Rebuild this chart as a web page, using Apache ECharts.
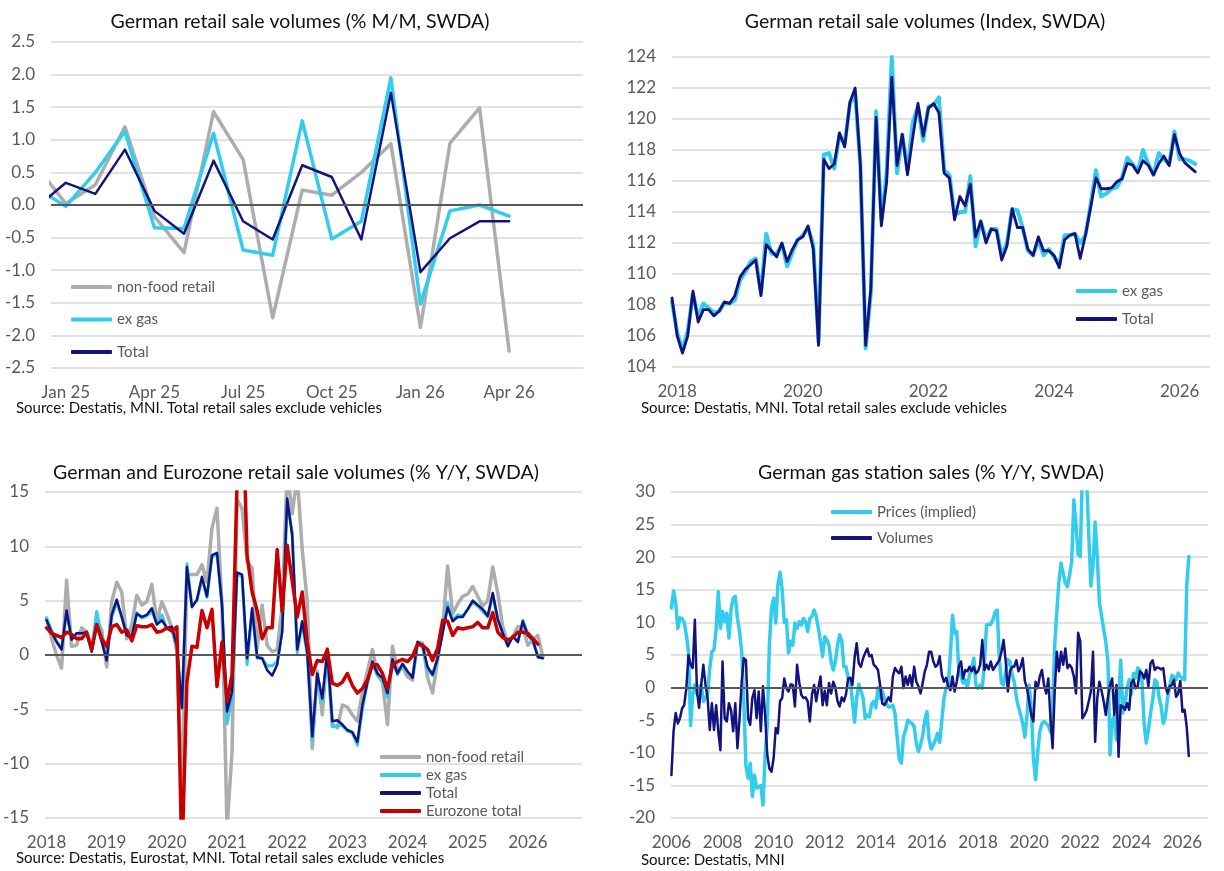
<!DOCTYPE html>
<html>
<head>
<meta charset="utf-8">
<title>German retail sales</title>
<script src="https://cdn.jsdelivr.net/npm/echarts@6/dist/echarts.min.js"></script>
<style>
  html, body { margin: 0; padding: 0; background: #fff; }
  #chart { width: 1224px; height: 871px; }
</style>
</head>
<body>
<div id="chart"></div>
<script>
// ---- panel 1: % M/M, Dec 24 .. Apr 26 (Dec 24 only shows as the clipped first segment)
var p1Start = -1;
var p1NonFood = [0.6, 0.02, 0.31, 1.2, -0.18, -0.73, 1.43, 0.7, -1.73, 0.23, 0.15, 0.5, 0.94, -1.88, 0.95, 1.49, -2.24];
var p1ExGas = [0.26, -0.02, 0.5, 1.13, -0.35, -0.36, 1.1, -0.69, -0.77, 1.29, -0.52, -0.25, 1.95, -1.52, -0.09, 0.0, -0.17];
var p1Total = [-0.04, 0.34, 0.17, 0.85, -0.09, -0.44, 0.68, -0.25, -0.53, 0.61, 0.43, -0.53, 1.72, -1.03, -0.51, -0.25, -0.25];
var p1TickPos = [0, 3, 6, 9, 12, 15];
var p1TickLabels = ['Jan 25', 'Apr 25', 'Jul 25', 'Oct 25', 'Jan 26', 'Apr 26'];

// ---- panel 2: index, Dec 2017 .. Apr 2026
var p2Start = -1;
var p2ExGas = [108.2, 106.2, 105.1, 106.3, 108.7, 107.2, 108.1, 107.8, 107.5, 107.6, 108.1, 108.1, 108.3,
  109.6, 110.1, 110.8, 111.0, 108.8, 112.6, 111.3, 111.3, 111.9, 110.5, 111.4, 112.2, 112.5, 113.0, 111.9,
  105.6, 117.7, 117.8, 116.8, 119.0, 118.4, 121.0, 121.6, 117.0, 105.2, 108.8, 120.5, 113.5, 116.5, 124.0,
  116.5, 119.0, 116.7, 119.8, 120.8, 118.6, 120.8, 120.9, 121.4, 116.7, 116.4, 113.8, 114.0, 114.0, 116.3,
  111.8, 113.4, 112.2, 112.9, 112.9, 111.2, 112.0, 114.2, 114.1, 113.0, 111.5, 111.2, 112.2, 111.2, 111.6,
  111.1, 110.6, 112.5, 112.5, 112.6, 112.0, 112.5, 114.5, 116.7, 115.0, 115.2, 115.5, 115.6, 116.2, 117.5,
  117.1, 116.6, 118.0, 117.1, 116.4, 117.8, 117.4, 117.1, 119.2, 117.4, 117.4, 117.3, 117.1];
var p2Total = [108.45, 106.0, 104.9, 106.0, 108.9, 106.9, 107.7, 107.7, 107.3, 107.6, 108.2, 108.1, 108.6,
  109.8, 110.3, 110.6, 110.9, 108.6, 111.9, 111.5, 111.1, 112.0, 110.8, 111.6, 112.2, 112.4, 113.1, 111.6,
  105.4, 117.4, 116.8, 117.1, 119.1, 118.2, 121.1, 122.0, 117.0, 105.4, 109.1, 120.1, 113.1, 115.9, 122.7,
  117.0, 119.0, 116.4, 118.8, 121.0, 118.9, 120.7, 121.0, 120.4, 116.5, 116.2, 113.5, 115.0, 114.4, 115.8,
  112.4, 113.4, 112.0, 112.9, 112.8, 110.9, 111.8, 114.2, 113.0, 113.0, 111.6, 111.2, 112.4, 111.5, 111.5,
  111.2, 110.4, 112.2, 112.5, 112.6, 111.0, 112.5, 114.3, 116.2, 115.5, 115.5, 115.56, 115.95, 116.15, 117.14,
  117.03, 116.52, 117.31, 117.02, 116.4, 117.11, 117.61, 116.99, 119.0, 117.77, 117.17, 116.88, 116.59];
var p2TickPos = [0, 24, 48, 72, 96];
var p2TickLabels = ['2018', '2020', '2022', '2024', '2026'];

// ---- panel 3: % Y/Y, Jan 2018 ..
var p3NonFood = [3.4, 1.5, 0.0, -1.2, 6.9, 0.8, 0.9, 2.5, 2.1, 0.6,
  3.1, 2.3, -1.1, 4.9, 6.7, 5.8, 1.5, 2.8, 5.5, 4.6,
  4.9, 6.5, 3.1, 4.9, 3.8, 2.5, 0.3, -13.0, 7.4, 7.4,
  7.4, 8.3, 6.7, 11.7, 13.5, 4.6, -16, -8.9, 14.3, 13.5,
  8.6, 8.0, 0.6, 4.6, 0.9, 0.3, 0.5, 4.5, 17, 13,
  16.5, 9.7, 4.9, -8.6, -1.5, -5.5, 0.6, -6.4, -6.7, -4.6,
  -4.8, -5.5, -6.1, -3.4, -1.5, 0.5, -1.8, -2.5, -6.4, 0.8,
  -1.4, -1.1, -2.0, -2.3, 1.2, 1.1, -2.1, -3.5, -0.5, 2.5,
  8.2, 3.8, 4.7, 5.4, 5.6, 6.3, 5.4, 4.5, 5.0, 8.1,
  5.7, 2.6, 1.1, 1.7, 2.6, 2.6, 0.9, 1.4, 1.8, -0.2];
var p3ExGas = [3.4, 2.3, 1.3, 0.6, 3.9, 1.5, 2.0, 2.0, 2.0, 0.5,
  4.0, 1.8, -0.2, 3.5, 4.8, 3.5, 1.9, 1.8, 3.9, 3.4,
  3.6, 4.0, 2.9, 3.7, 2.4, 2.5, 0.9, -4.8, 8.4, 4.5,
  5.0, 7.0, 5.3, 9.0, 9.3, 4.5, -6.3, -4.0, 7.5, 7.2,
  -0.9, 4.0, -0.3, -0.3, -1.0, -1.0, -0.6, 2.3, 14.0, 11.3,
  0.2, 3.0, 0.0, -7.9, -2.0, -4.3, 0.1, -6.6, -6.5, -6.5,
  -7.0, -7.2, -8.3, -5.0, -2.6, -0.8, -1.9, -2.3, -3.9, -0.6,
  -1.8, -1.0, -1.6, -2.0, 1.0, 0.7, -1.3, -1.9, -0.2, 2.2,
  4.8, 3.2, 3.7, 3.6, 4.2, 4.9, 4.5, 4.0, 3.5, 5.5,
  3.3, 2.0, 1.0, 1.8, 1.2, 3.2, 1.9, 1.2, -0.1, -0.2];
var p3Total = [3.2, 2.1, 1.2, 0.5, 4.1, 1.4, 2.0, 2.0, 2.1, 0.3,
  2.8, 1.2, -0.5, 3.7, 5.1, 3.5, 1.8, 1.7, 3.8, 3.5,
  3.7, 4.3, 2.8, 3.2, 2.5, 2.6, 0.8, -4.9, 8.1, 4.4,
  5.1, 7.2, 5.4, 9.2, 9.4, 4.6, -5.2, -3.4, 7.6, 7.4,
  -0.3, 4.3, -0.2, -0.3, -1.4, -1.9, -0.9, 2.1, 14.4, 11.0,
  0.5, 3.1, 0.3, -7.5, -1.7, -4.0, 0.3, -6.1, -6.0, -6.4,
  -6.9, -7.1, -8.0, -4.6, -2.5, -0.6, -1.7, -2.1, -3.5, -0.4,
  -1.7, -0.8, -1.5, -2.1, 1.2, 0.9, -1.1, -1.8, -0.3, 2.0,
  4.4, 3.1, 3.5, 3.5, 4.2, 5.0, 4.6, 4.2, 3.6, 5.7,
  3.3, 2.0, 0.8, 1.7, 1.2, 3.1, 1.8, 1.4, -0.2, -0.3];
var p3EuroTotal = [2.5, 2.0, 1.8, 1.6, 2.1, 1.9, 1.5, 1.5, 2.1, 0.5,
  2.8, 1.5, 0.8, 2.6, 2.8, 2.1, 2.3, 1.3, 2.7, 2.6,
  2.6, 2.8, 2.1, 2.2, 2.5, 2.2, 2.6, -19.0, -2.5, 0.8,
  0.7, 4.1, 2.5, 4.2, -2.9, 1.2, -4.3, -1.8, 16, 25,
  9.2, 5.8, 4.1, 1.5, 2.5, 2.5, 9.7, 4.0, 10.1, 6.8,
  3.5, 5.8, 1.2, -1.8, -0.5, -0.6, 0.5, -2.6, -2.8, -2.5,
  -1.7, -2.8, -3.5, -3.1, -2.3, -0.9, -0.9, -1.7, -3.1, -0.9,
  -0.6, -0.4, -0.6, -0.1, 1.0, 0.9, 0.5, -0.5, 0.6, 3.2,
  3.1, 1.8, 2.5, 2.4, 2.5, 2.6, 3.0, 2.5, 2.5, 3.9,
  2.1, 1.6, 1.4, 1.6, 2.1, 2.1, 2.0, 1.5, 1.0];
var p3TickPos = [0, 12, 24, 36, 48, 60, 72, 84, 96];
var p3TickLabels = ['2018', '2019', '2020', '2021', '2022', '2023', '2024', '2025', '2026'];

// ---- panel 4: gas stations % Y/Y, Jan 2006 .. Apr 2026
var p4Prices = [12.2, 14.8, 13.0, 9.1, 10.7, 10.6, 10.0, 8.1, 5.5, -5.8,
  -1.1, 0.4, -1.0, 0.2, 0.4, -2.1, -1.6, -1.0, 3.0, 5.5,
  5.8, 9.0, 14.7, 9.1, 11.7, 10.1, 11.4, 7.6, 12.0, 13.7,
  14.0, 10.6, 8.6, 5.5, -2.1, -12.0, -13.9, -11.6, -16.7, -13.4,
  -15.4, -15.2, -15.0, -18.0, -10.5, -5.7, 6.5, 12.2, 13.7, 9.9,
  15.7, 17.7, 15.0, 10.0, 10.4, 5.3, 7.1, 6.5, 9.9, 9.1,
  10.1, 9.6, 10.6, 10.1, 8.6, 10.6, 10.9, 11.9, 10.9, 9.1,
  7.1, 4.8, 7.8, 7.3, 6.5, 4.0, 2.7, 4.0, 6.5, 8.1,
  7.1, 3.2, 3.2, 1.5, 1.0, -2.1, -5.3, -1.6, 0.5, -0.5,
  -1.6, -4.7, -4.2, -4.5, -2.6, -2.1, -3.1, 0.0, -1.6, -0.5,
  -1.6, -2.5, -3.0, -2.9, -2.7, -4.0, -7.5, -11.0, -11.6, -7.5,
  -6.5, -5.0, -5.3, -5.5, -6.0, -8.5, -9.8, -8.8, -7.4, -5.0,
  -3.7, -7.9, -9.4, -8.8, -8.0, -7.0, -8.4, -5.0, -1.6, -0.1,
  0.4, 5.0, 11.1, 8.3, 8.6, 2.5, 1.7, 0.7, 1.2, 0.0,
  2.0, 3.0, 4.5, 0.4, -0.1, 0.4, -0.1, 4.0, 9.6, 9.7,
  9.7, 10.4, 11.6, 11.9, 4.5, 0.7, 0.4, 2.5, 4.3, 4.0,
  2.0, 0.9, -1.5, -3.0, -4.2, -5.5, -7.6, -4.2, 0.4, -3.0,
  -10.8, -14.1, -10.0, -6.8, -5.5, -5.2, -5.5, -5.8, -6.8, -3.0,
  6.5, 11.6, 16.3, 19.1, 17.5, 16.0, 15.5, 17.3, 19.4, 28.8,
  25.0, 20.4, 20.1, 33.0, 35.0, 32.0, 23.4, 15.6, 18.7, 25.4,
  20.0, 13.0, 11.0, 9.0, 7.0, 4.0, -10.3, -5.0, -4.5, -8.0,
  -2.0, 4.2, -3.9, -2.5, 0.0, 1.2, -1.0, 2.2, 1.5, 3.0,
  2.7, 1.0, -5.5, -8.5, -6.5, -4.0, -1.9, 1.2, 0.9, -1.5,
  -2.9, -5.5, -4.5, -1.6, 0.2, 1.9, 1.7, 1.2, 2.2, 1.7,
  1.4, 1.2, 15.5, 20.1];
var p4Volumes = [-13.4, -6.7, -3.9, -5.5, -4.7, -3.2, -2.7, -0.1, 5.0, 3.5,
  3.0, 10.4, -0.6, -3.1, 0.5, 3.5, 0.4, -1.6, -6.5, -2.4,
  -6.5, -2.7, -6.7, -9.6, 4.0, -4.7, -5.2, -2.4, -3.4, -6.7,
  -2.4, -9.3, -4.7, 0.9, 4.5, 4.2, -4.7, -5.7, -1.6, -0.4,
  -4.7, -0.6, -6.7, 0.2, -4.2, -10.3, -12.4, -12.9, -10.8, -6.2,
  -7.0, -2.1, -1.6, 1.4, -0.1, -0.6, 0.5, 0.4, -2.9, 3.5,
  0.9, -1.1, -1.6, -1.5, -2.1, -5.2, -1.1, 0.4, -2.1, -0.1,
  1.7, -2.7, -0.5, -2.7, 0.7, -0.9, 0.9, 0.0, -2.1, -2.9,
  -1.5, -2.1, -1.0, 1.4, 1.5, 0.4, 4.5, 6.8, 3.7, 3.2,
  4.5, 5.3, 6.0, 4.8, 5.0, 3.5, 3.2, 2.7, 0.4, -2.4,
  -2.7, -2.1, -1.5, -2.1, 1.7, 3.0, 2.5, 2.2, 3.2, -0.1,
  1.7, 0.4, 1.9, 0.2, 3.2, 0.9, 0.2, -0.9, 0.7, 2.5,
  3.5, 5.5, 5.5, 4.0, 3.2, 3.5, 4.8, 1.9, 0.9, 1.5,
  0.2, -0.4, 1.7, -0.6, 0.9, 3.2, 4.0, 1.4, 2.7, 2.5,
  3.2, 2.5, 3.2, 2.2, 2.5, 3.5, 7.3, 2.7, 3.5, 2.8,
  4.0, 2.7, 3.2, 3.7, 4.2, 5.5, 7.3, 4.0, -0.6, 2.5,
  3.2, 3.2, 4.2, 2.5, 3.2, 4.5, 1.0, -0.1, -2.1, -4.2,
  -5.2, 0.9, -0.1, 1.7, 2.7, 0.4, -0.9, 1.4, -4.7, -9.3,
  -0.6, 5.5, 2.5, 5.5, 3.5, 6.0, 3.0, 3.5, 3.0, 1.7,
  -0.9, 8.4, 7.1, -4.7, -4.2, -3.5, -2.1, -0.6, 5.5, -8.3,
  -1.6, 0.9, -0.5, -2.1, -4.2, -1.5, 0.4, 1.4, -4.2, 0.4,
  -10.6, -2.7, -2.9, -3.4, -2.4, -3.4, 0.7, 1.2, -0.1, 0.2,
  2.5, 2.2, 1.4, 2.7, 0.2, 3.7, 4.2, 2.7, 3.1, 3.0,
  2.8, 3.0, 0.2, -0.9, 0.2, 0.4, 1.2, -1.4, -0.9, 1.0,
  -3.7, -3.4, -6.0, -10.5];
var p4TickPos = [0, 24, 48, 72, 96, 120, 144, 168, 192, 216, 240];
var p4TickLabels = ['2006', '2008', '2010', '2012', '2014', '2016', '2018', '2020', '2022', '2024', '2026'];

var FONT = 'Lato, "Noto Sans", sans-serif';
var CYAN = '#33CCEC';
var NAVY = '#131380';
var GRAY = '#ADADAD';
var RED = '#C80000';
var LABEL = '#595959';

function pairs(arr, start) {
  return arr.map(function (v, k) { return [start + k, v]; });
}

function makeX(gi, min, max, pos, labels) {
  return {
    type: 'value', gridIndex: gi, min: min, max: max,
    splitLine: { show: false }, axisLine: { show: false }, axisTick: { show: false },
    axisLabel: {
      customValues: pos, margin: 16, color: LABEL, fontFamily: FONT, fontSize: 17,
      formatter: function (v) {
        var k = pos.indexOf(v);
        return k < 0 ? '' : labels[k];
      }
    }
  };
}

function makeY(gi, min, max, interval, digits) {
  return {
    type: 'value', gridIndex: gi, min: min, max: max, interval: interval,
    axisLine: { show: false }, axisTick: { show: false },
    splitLine: { show: true, lineStyle: { color: '#d9d9d9', width: 1.5 } },
    axisLabel: {
      margin: 16, color: LABEL, fontFamily: FONT, fontSize: 17,
      formatter: function (v) { return v.toFixed(digits); }
    }
  };
}

function lineSeries(name, data, color, width, idx, z) {
  return {
    type: 'line', name: name, xAxisIndex: idx, yAxisIndex: idx, data: data,
    showSymbol: false, symbol: 'none', clip: true, z: z,
    itemStyle: { color: color },
    lineStyle: { color: color, width: width, join: 'round', cap: 'round' }
  };
}

var zeroLine = {
  silent: true, symbol: 'none', label: { show: false },
  lineStyle: { color: '#595959', width: 2, type: 'solid' },
  data: [{ yAxis: 0 }]
};

function legendAt(names, left, top, gap) {
  return {
    data: names, orient: 'vertical', left: left, top: top, padding: 0,
    itemWidth: 41, itemHeight: 4, itemGap: gap, icon: 'roundRect',
    textStyle: { color: LABEL, fontFamily: FONT, fontSize: 15, lineHeight: 16 }
  };
}

function text(str, x, y, size, align) {
  return {
    type: 'text', x: x, y: y, silent: true,
    style: {
      text: str, fill: '#111', font: size + 'px ' + FONT,
      align: align, textAlign: align, verticalAlign: 'middle', textVerticalAlign: 'middle'
    }
  };
}

var chart = echarts.init(document.getElementById('chart'), null, { renderer: 'canvas' });

var s1 = lineSeries('non-food retail', pairs(p1NonFood, p1Start), GRAY, 3.5, 0, 2);
s1.markLine = zeroLine;
var s3 = lineSeries('non-food retail', pairs(p3NonFood, 0), GRAY, 3.5, 2, 2);
s3.markLine = zeroLine;
var s4 = lineSeries('Prices (implied)', pairs(p4Prices, 0), CYAN, 3.5, 3, 2);
s4.markLine = zeroLine;

chart.setOption({
  animation: false,
  backgroundColor: '#fff',
  grid: [
    { left: 51, top: 42, width: 532, height: 326 },
    { left: 672, top: 57, width: 538, height: 310 },
    { left: 45, top: 492, width: 537, height: 326 },
    { left: 671, top: 492, width: 537, height: 326 }
  ],
  xAxis: [
    makeX(0, -0.5, 17.5, p1TickPos, p1TickLabels),
    makeX(1, -1, 101.8, p2TickPos, p2TickLabels),
    makeX(2, -0.3, 106.8, p3TickPos, p3TickLabels),
    makeX(3, -0.2, 252, p4TickPos, p4TickLabels)
  ],
  yAxis: [
    makeY(0, -2.5, 2.5, 0.5, 1),
    makeY(1, 104, 124, 2, 0),
    makeY(2, -15, 15, 5, 0),
    makeY(3, -20, 30, 5, 0)
  ],
  legend: [
    legendAt(['non-food retail', 'ex gas', 'Total'], 71, 279, 16.5),
    legendAt(['ex gas', 'Total'], 1076, 283, 12),
    legendAt(['non-food retail', 'ex gas', 'Total', 'Eurozone total'], 380, 749, 2),
    legendAt(['Prices (implied)', 'Volumes'], 831, 504, 10)
  ],
  series: [
    s1,
    lineSeries('ex gas', pairs(p1ExGas, p1Start), CYAN, 3.5, 0, 3),
    lineSeries('Total', pairs(p1Total, p1Start), NAVY, 2.5, 0, 4),

    lineSeries('ex gas', pairs(p2ExGas, p2Start), CYAN, 4, 1, 3),
    lineSeries('Total', pairs(p2Total, p2Start), NAVY, 2.8, 1, 4),

    s3,
    lineSeries('ex gas', pairs(p3ExGas, 0), CYAN, 3, 2, 3),
    lineSeries('Total', pairs(p3Total, 0), NAVY, 2.5, 2, 4),
    lineSeries('Eurozone total', pairs(p3EuroTotal, 0), RED, 3.5, 2, 5),

    s4,
    lineSeries('Volumes', pairs(p4Volumes, 0), NAVY, 2.5, 3, 3)
  ],
  graphic: [
    text('German retail sale volumes (% M/M, SWDA)', 300, 22, 19.5, 'center'),
    text('German retail sale volumes (Index, SWDA)', 925, 22, 19.5, 'center'),
    text('German and Eurozone retail sale volumes (% Y/Y, SWDA)', 296, 473, 19.5, 'center'),
    text('German gas station sales (% Y/Y, SWDA)', 931, 473, 19.5, 'center'),
    text('Source: Destatis, MNI. Total retail sales exclude vehicles', 16, 408, 15, 'left'),
    text('Source: Destatis, MNI. Total retail sales exclude vehicles', 641, 408, 15, 'left'),
    text('Source: Destatis, Eurostat, MNI. Total retail sales exclude vehicles', 16, 858, 15, 'left'),
    text('Source: Destatis, MNI', 641, 860, 15, 'left')
  ]
});
</script>
</body>
</html>
